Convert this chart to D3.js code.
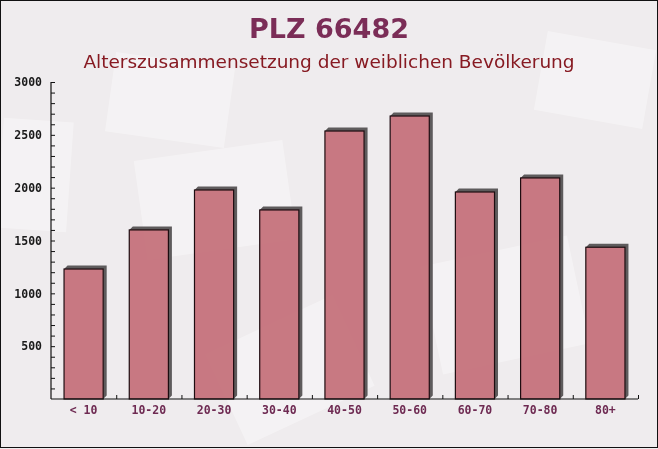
<!DOCTYPE html>
<html>
<head>
<meta charset="utf-8">
<script src="https://cdn.jsdelivr.net/npm/d3@7"></script>
<style>
  html, body { margin: 0; padding: 0; background: #f1eef0; }
  svg { display: block; }
</style>
</head>
<body>
<svg id="chart" width="658" height="449"></svg>
<script>
const categories = ["< 10", "10-20", "20-30", "30-40", "40-50", "50-60", "60-70", "70-80", "80+"];
const values = [1230, 1600, 1978, 1789, 2536, 2678, 1959, 2092, 1436];
const yTickLabels = [500, 1000, 1500, 2000, 2500, 3000];
const titleText = "PLZ 66482";
const subtitleText = "Alterszusammensetzung der weiblichen Bevölkerung";

const W = 658, H = 449;
const svg = d3.select("#chart");

// background
svg.append("rect").attr("x", 0).attr("y", 0).attr("width", W).attr("height", H).attr("fill", "#efecee");
// subtle decorative paper shapes
const deco = svg.append("g").attr("fill", "#ffffff").attr("opacity", 0.35);
deco.append("rect").attr("x", 110).attr("y", 60).attr("width", 120).attr("height", 80).attr("transform", "rotate(8 170 100)");
deco.append("rect").attr("x", 140).attr("y", 150).attr("width", 150).attr("height", 100).attr("transform", "rotate(-8 215 200)");
deco.append("rect").attr("x", 430).attr("y", 250).attr("width", 150).attr("height", 110).attr("transform", "rotate(-12 505 305)");
deco.append("rect").attr("x", 540).attr("y", 40).attr("width", 110).attr("height", 80).attr("transform", "rotate(10 595 80)");
deco.append("rect").attr("x", 220).attr("y", 320).attr("width", 140).attr("height", 100).attr("transform", "rotate(-25 290 370)");
deco.append("rect").attr("x", 0).attr("y", 120).attr("width", 70).attr("height", 110).attr("transform", "rotate(4 35 175)");

const x0 = 51, x1 = 638, yBase = 399, yTop = 82;
const x = d3.scaleBand().domain(categories).range([x0, x1]).paddingInner(0.4).paddingOuter(0.2);
const xb = d3.scaleLinear().domain([0, categories.length]).range([x0, x1]);
const y = d3.scaleLinear().domain([0, 3000]).range([yBase, yTop]);

// titles
svg.append("text").attr("x", 329).attr("y", 38).attr("text-anchor", "middle")
  .attr("font-family", "DejaVu Sans, Verdana, sans-serif").attr("font-weight", "bold")
  .attr("font-size", 27).attr("fill", "#7b2d57").text(titleText);
svg.append("text").attr("x", 329).attr("y", 68).attr("text-anchor", "middle")
  .attr("font-family", "DejaVu Sans, Verdana, sans-serif")
  .attr("font-size", 18.5).attr("fill", "#871a22").text(subtitleText);

// bars with 3D shadow
const d = 3.5;
const g = svg.append("g");
categories.forEach((c, i) => {
  const bx = x(c), bw = x.bandwidth(), by = y(values[i]);
  g.append("polygon")
    .attr("points", [[bx, by], [bx + d, by - d], [bx + bw + d, by - d], [bx + bw + d, yBase - d], [bx + bw, yBase], [bx + bw, by]].map(p => p.join(",")).join(" "))
    .attr("fill", "#5e5b5c");
  g.append("rect").attr("x", bx).attr("y", by).attr("width", bw).attr("height", yBase - by)
    .attr("fill", "#c5727b").attr("fill-opacity", 0.95)
    .attr("stroke", "#1e0c10").attr("stroke-width", 1.2);
});

// y axis
const yAxis = d3.axisLeft(y).tickValues(d3.range(0, 3001, 100)).tickSize(-4).tickFormat(v => yTickLabels.includes(v) ? v : "");
const ya = svg.append("g").attr("transform", `translate(${x0},0)`).call(yAxis);
ya.select(".domain").attr("stroke", "#111").attr("stroke-width", 1.2).attr("d", `M0,${yTop}H-0V${yBase}`);
ya.selectAll(".tick line").attr("stroke", "#111");
ya.selectAll(".tick").filter(v => v === 0).remove();
ya.selectAll(".tick text").attr("x", -9).attr("font-family", "DejaVu Sans Mono, monospace")
  .attr("font-weight", "bold").attr("font-size", 11.5).attr("fill", "#1a1a1a");

// x axis boundary ticks
const xAxisTicks = d3.axisBottom(xb).tickValues(d3.range(1, categories.length + 1)).tickSize(-4).tickFormat("");
const xa = svg.append("g").attr("transform", `translate(0,${yBase})`).call(xAxisTicks);
xa.select(".domain").attr("stroke", "#111").attr("stroke-width", 1.2).attr("d", `M${x0},0H${x1}`);
xa.selectAll(".tick line").attr("stroke", "#111");

// x labels
const xl = svg.append("g").attr("transform", `translate(0,${yBase})`)
  .call(d3.axisBottom(x).tickSize(0).tickPadding(7));
xl.select(".domain").remove();
xl.selectAll(".tick text").attr("font-family", "DejaVu Sans Mono, monospace")
  .attr("font-weight", "bold").attr("font-size", 11.5).attr("fill", "#6e2a52");

// frame
svg.append("rect").attr("x", 0.5).attr("y", 0.5).attr("width", W - 1).attr("height", H - 2)
  .attr("fill", "none").attr("stroke", "#111").attr("stroke-width", 1);
</script>
</body>
</html>
